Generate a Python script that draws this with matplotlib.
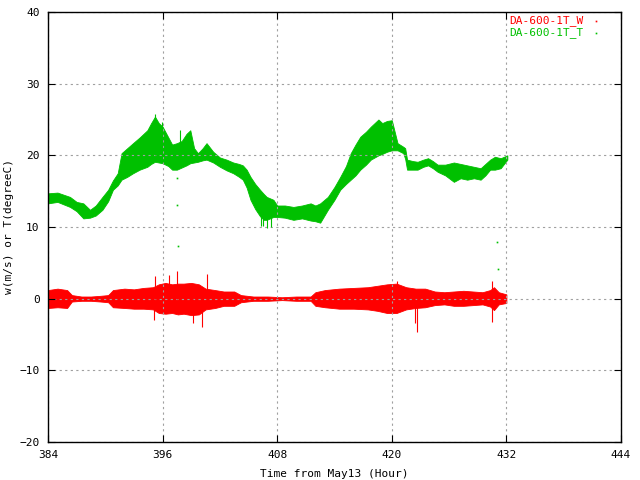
import matplotlib
matplotlib.use("Agg")
import matplotlib.pyplot as plt

# ---- data (hour, low, high envelopes) ----
t_hours = [384.0, 385.0, 386.3, 387.0, 387.7, 388.4, 389.0, 389.7, 390.3, 390.8,
           391.3, 391.7, 392.3, 392.9, 393.6, 394.4, 394.8, 395.2, 395.6, 396.0,
           396.6, 397.0, 397.5, 398.0, 398.5, 398.9, 399.3, 399.7, 400.2, 400.6,
           401.3, 402.0, 402.7, 403.4, 404.0, 404.4, 404.8, 405.2, 405.7, 406.2,
           406.6, 406.9, 407.6, 408.0, 408.8, 409.7, 410.6, 411.5, 412.0, 412.5,
           413.3, 414.0, 414.6, 415.2, 415.7, 416.2, 416.7, 417.3, 417.8, 418.2,
           418.6, 419.0, 419.5, 420.0, 420.6, 421.2, 421.4, 421.6, 422.2, 422.7,
           423.3, 423.8, 424.3, 424.8, 425.6, 426.5, 427.2, 427.9, 428.6, 429.3,
           429.8, 430.3, 430.8, 431.4, 432.1]
t_low = [13.3, 13.5, 12.8, 12.2, 11.2, 11.3, 11.6, 12.4, 13.6, 15.2,
         15.8, 16.6, 17.0, 17.5, 18.0, 18.4, 18.8, 19.1, 19.0, 18.9,
         18.5, 18.0, 18.0, 18.3, 18.6, 18.9, 19.0, 19.1, 19.3, 19.4,
         19.0, 18.4, 17.9, 17.5, 17.0, 16.6, 15.5, 13.8, 12.5, 11.5,
         11.0, 11.0, 11.4, 11.4, 11.3, 11.0, 11.2, 10.9, 10.8, 10.6,
         12.4, 13.8, 15.2, 16.0, 16.6, 17.2, 18.0, 18.7, 19.4, 19.7,
         20.0, 20.2, 20.5, 20.7, 20.7, 20.3, 19.5, 18.0, 18.0, 18.0,
         18.4, 18.6, 18.2, 17.7, 17.2, 16.3, 16.8, 16.6, 16.8, 16.6,
         17.2, 18.0, 18.0, 18.2, 19.4]
t_high = [14.7, 14.8, 14.2, 13.5, 13.3, 12.4, 13.0, 14.2, 15.2, 16.5,
          17.5, 20.3, 21.0, 21.7, 22.5, 23.5, 24.5, 25.4, 24.5, 24.0,
          22.5, 21.5, 21.7, 22.0, 23.0, 23.5, 21.0, 20.3, 21.0, 21.7,
          20.5, 19.7, 19.4, 19.0, 18.8, 18.6, 18.0, 17.0, 16.0, 15.2,
          14.6, 14.2, 13.8, 13.0, 13.0, 12.8, 13.0, 13.3, 13.0, 13.3,
          14.2, 15.6, 17.0, 18.5, 20.3, 21.5, 22.6, 23.3, 24.0, 24.5,
          25.0, 24.5, 24.8, 24.9, 21.7, 21.2, 21.0, 19.4, 19.2, 19.1,
          19.4, 19.6, 19.2, 18.7, 18.7, 19.0, 18.8, 18.6, 18.4, 18.2,
          18.8, 19.4, 19.8, 19.6, 20.0]
t_spike_h = [395.2, 395.9, 397.8, 406.3, 406.9, 407.4, 406.5]
t_spike_lo = [20.0, 19.5, 19.0, 10.2, 9.9, 10.0, 10.1]
t_spike_hi = [25.8, 24.6, 23.6, 14.0, 13.0, 13.0, 14.5]
t_stray_h = [397.5, 397.5, 397.6, 431.0, 431.1]
t_stray_v = [16.8, 13.0, 7.4, 7.9, 4.2]

w_hours = [384.0, 385.0, 386.0, 386.5, 387.5, 388.5, 389.5, 390.3, 390.8, 392.0,
           393.0, 394.0, 395.0, 395.6, 396.3, 397.0, 397.6, 398.2, 399.0, 399.8,
           400.5, 401.5, 402.4, 403.5, 404.2, 405.5, 407.0, 408.5, 410.0, 411.5,
           412.0, 413.0, 414.5, 416.0, 417.5, 418.5, 419.5, 420.5, 421.5, 422.5,
           423.5, 424.5, 425.5, 426.5, 427.5, 428.5, 429.5, 430.3, 430.7, 431.2,
           432.0]
w_low = [-1.3, -1.2, -1.3, -0.4, -0.3, -0.3, -0.4, -0.5, -1.2, -1.3,
         -1.4, -1.4, -1.5, -2.0, -2.1, -2.0, -2.2, -2.1, -2.3, -2.2,
         -1.5, -1.3, -1.0, -1.0, -0.5, -0.3, -0.3, -0.2, -0.3, -0.3,
         -1.0, -1.2, -1.4, -1.4, -1.5, -1.7, -2.0, -2.0, -1.5, -1.3,
         -1.2, -0.9, -0.8, -1.0, -1.0, -0.9, -0.8, -1.1, -1.6, -0.8,
         -0.6]
w_high = [1.2, 1.4, 1.2, 0.5, 0.3, 0.3, 0.4, 0.5, 1.2, 1.4,
          1.3, 1.5, 1.6, 2.0, 2.2, 2.0, 2.1, 2.1, 2.2, 2.0,
          1.4, 1.2, 1.0, 1.0, 0.5, 0.3, 0.3, 0.2, 0.3, 0.3,
          0.9, 1.2, 1.4, 1.5, 1.6, 1.8, 2.0, 2.1, 1.6, 1.4,
          1.4, 1.0, 0.9, 1.0, 1.1, 1.0, 0.9, 1.2, 1.6, 0.9,
          0.6]
w_spike_h = [395.2, 396.7, 397.5, 399.2, 400.1, 400.7, 395.1, 420.5, 422.6, 422.4, 430.5]
w_spike_lo = [0.0, 0.0, 0.0, -3.4, -3.9, 0.0, -3.0, 0.0, -4.6, -3.4, -3.2]
w_spike_hi = [3.1, 3.3, 3.8, 0.0, 0.0, 3.5, 0.0, 2.4, 0.0, 0.0, 2.4]

red = "#ff0000"
green = "#00c000"

plt.rcParams["font.family"] = "DejaVu Sans Mono"
fig = plt.figure(figsize=(6.4, 4.8), dpi=100)
ax = fig.add_axes([48/640, 1 - 442/480, (621-48)/640, (442-12)/480])

ax.fill_between(w_hours, w_low, w_high, color=red, lw=0.6, edgecolor=red)
ax.vlines(w_spike_h, w_spike_lo, w_spike_hi, color=red, lw=0.8)
ax.fill_between(t_hours, t_low, t_high, color=green, lw=0.6, edgecolor=green)
ax.vlines(t_spike_h, t_spike_lo, t_spike_hi, color=green, lw=0.8)
ax.plot(t_stray_h, t_stray_v, ls="none", marker="s", ms=1.2, color=green, mew=0)

ax.set_xlim(384, 444)
ax.set_ylim(-20, 40)
ax.set_xticks(range(384, 445, 12))
ax.set_yticks(range(-20, 41, 10))
ax.grid(True, color="#a0a0a0", ls=(0, (2, 3)), lw=0.8)
ax.tick_params(direction="in", top=True, right=True, labelsize=8, length=5, pad=6)
for s in ax.spines.values():
    s.set_linewidth(1.0)
ax.set_xlabel("Time from May13 (Hour)", fontsize=8, labelpad=6)
ax.set_ylabel("w(m/s) or T(degreeC)", fontsize=8, labelpad=4)

# legend in gnuplot style
fig.text(509/640, 1 - 21/480, "DA-600-1T_W", color=red, fontsize=8, va="center")
fig.text(509/640, 1 - 33/480, "DA-600-1T_T", color=green, fontsize=8, va="center")
ax.plot([0.956], [0.979], transform=ax.transAxes, marker="s", ms=1.2, color=red, mew=0, clip_on=False)
ax.plot([0.956], [0.951], transform=ax.transAxes, marker="s", ms=1.2, color=green, mew=0, clip_on=False)

fig.savefig("out.png", dpi=100)
